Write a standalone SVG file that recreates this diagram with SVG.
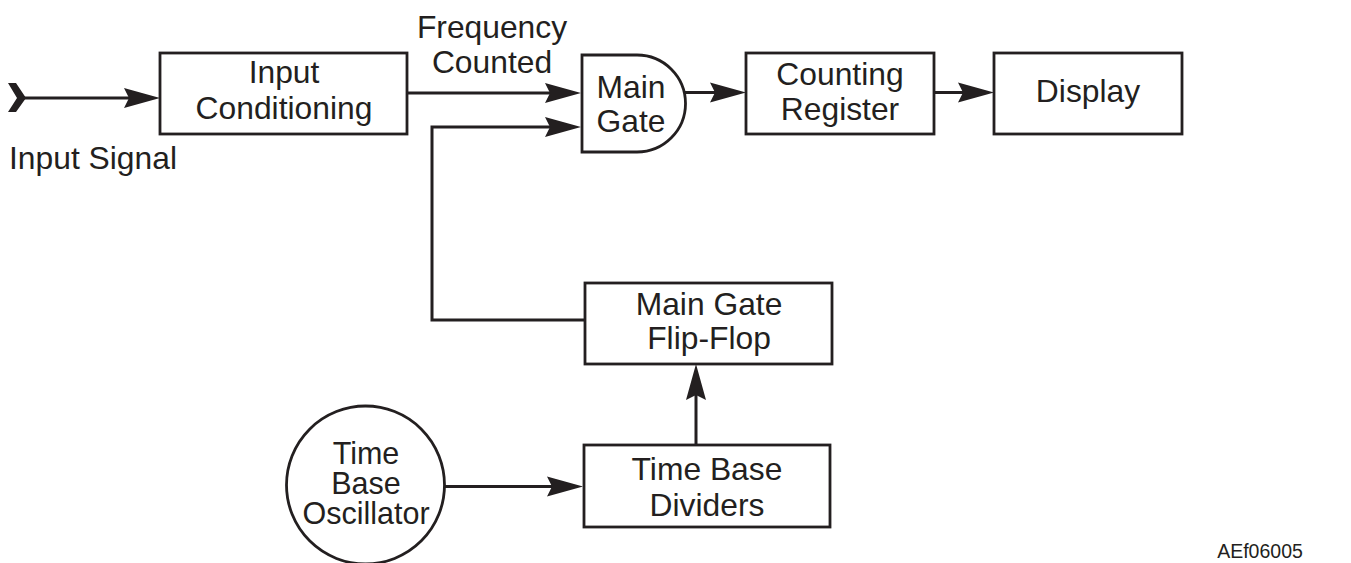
<svg xmlns="http://www.w3.org/2000/svg" width="1351" height="563" viewBox="0 0 1351 563">
<style>
.box{fill:#fff;stroke:#231f20;stroke-width:2.8}
.lbl{font-family:"Liberation Sans",Arial,sans-serif;font-size:31.8px;fill:#231f20;text-anchor:middle}
.osc{font-size:30.5px}
.conn{fill:none;stroke:#231f20;stroke-width:3}
</style>
<defs>
<marker id="ah" markerUnits="userSpaceOnUse" markerWidth="38" markerHeight="22" viewBox="-7 -11 38 22" refX="0" refY="0" orient="auto">
<path d="M30,0 L-6,-10 L-1,0 L-6,10 Z" fill="#231f20"/>
</marker>
</defs>
<rect width="1351" height="563" fill="#fff"/>
<g id="connectors">
<polygon points="8,83 16,83 26,98 16,112 8,112 17,98" fill="#231f20"/>
<path class="conn" d="M18,98 H130" marker-end="url(#ah)"/>
<path class="conn" d="M407,93 H551" marker-end="url(#ah)"/>
<path class="conn" d="M585,320 H432 V127 H551" marker-end="url(#ah)"/>
<path class="conn" d="M685,92.5 H716" marker-end="url(#ah)"/>
<path class="conn" d="M934,92.5 H964" marker-end="url(#ah)"/>
<path class="conn" d="M445,486.5 H553" marker-end="url(#ah)"/>
<path class="conn" d="M696,445 V394" marker-end="url(#ah)"/>
</g>
<g id="input-signal">
<text class="lbl" x="9" y="169" style="text-anchor:start">Input Signal</text>
</g>
<g id="frequency-counted">
<text class="lbl" x="492" y="38">Frequency</text>
<text class="lbl" x="492" y="73">Counted</text>
</g>
<g id="input-conditioning">
<rect class="box" x="160" y="53" width="247" height="81"/>
<text class="lbl" x="284" y="83">Input</text>
<text class="lbl" x="284" y="119">Conditioning</text>
</g>
<g id="main-gate">
<path class="box" d="M582,55 H637 A48.5,48.5 0 0 1 637,152 H582 Z"/>
<text class="lbl" x="631" y="98">Main</text>
<text class="lbl" x="631" y="132">Gate</text>
</g>
<g id="counting-register">
<rect class="box" x="746" y="53" width="188" height="81"/>
<text class="lbl" x="840" y="85">Counting</text>
<text class="lbl" x="840" y="120">Register</text>
</g>
<g id="display">
<rect class="box" x="994" y="53" width="188" height="81"/>
<text class="lbl" x="1088" y="102">Display</text>
</g>
<g id="main-gate-flip-flop">
<rect class="box" x="585" y="283" width="247" height="81"/>
<text class="lbl" x="709" y="315">Main Gate</text>
<text class="lbl" x="709" y="349">Flip-Flop</text>
</g>
<g id="time-base-dividers">
<rect class="box" x="584" y="445" width="246" height="82"/>
<text class="lbl" x="707" y="480">Time Base</text>
<text class="lbl" x="707" y="516">Dividers</text>
</g>
<g id="time-base-oscillator">
<circle class="box" cx="365.5" cy="485" r="79"/>
<text class="lbl osc" x="366" y="464">Time</text>
<text class="lbl osc" x="366" y="494">Base</text>
<text class="lbl osc" x="366" y="523.5">Oscillator</text>
</g>
<g id="figure-id">
<text class="lbl" x="1260" y="558" style="font-size:19.5px">AEf06005</text>
</g>
</svg>
